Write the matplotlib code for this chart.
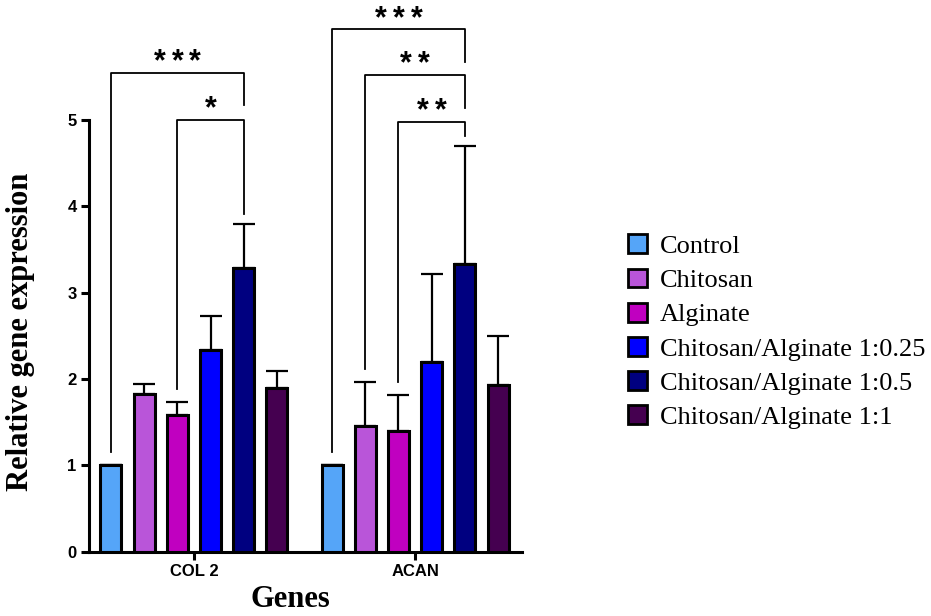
import matplotlib
matplotlib.use('Agg')
import matplotlib.pyplot as plt
import numpy as np
from matplotlib.patches import Patch

genes = ['COL 2', 'ACAN']
groups = ['Control', 'Chitosan', 'Alginate', 'Chitosan/Alginate 1:0.25',
          'Chitosan/Alginate 1:0.5', 'Chitosan/Alginate 1:1']
colors = ['#55a5f8', '#b955d9', '#c000c0', '#0000ff', '#000080', '#450050']

# bar heights and tops of the (upper only) error bars
col2_mean = [1.0, 1.83, 1.58, 2.33, 3.29, 1.89]
col2_upper = [1.0, 1.94, 1.73, 2.73, 3.80, 2.09]
acan_mean = [1.0, 1.45, 1.40, 2.20, 3.33, 1.93]
acan_upper = [1.0, 1.96, 1.81, 3.22, 4.70, 2.50]

# significance brackets: gene, left bar, right bar, number of stars
sig_gene = [0, 0, 1, 1, 1]
sig_left = [0, 2, 0, 1, 2]
sig_right = [4, 4, 4, 4, 4]
sig_stars = [3, 1, 3, 2, 2]

plt.rcParams['font.family'] = ['Liberation Sans', 'DejaVu Sans']

fig = plt.figure(figsize=(9.31, 6.16), dpi=100)
ax = fig.add_axes([0.0956, 0.1047, 0.4651, 0.7005])

gap = 6.66
width = 0.63
idx = np.arange(6)
means = [col2_mean, acan_mean]
uppers = [col2_upper, acan_upper]

for g in range(2):
    xs = idx + g * gap
    m = np.array(means[g])
    up = np.array(uppers[g])
    ax.bar(xs, m, width=width, color=colors, edgecolor='black', linewidth=2.2, zorder=3)
    ax.errorbar(xs, m, yerr=[np.zeros(6), up - m], fmt='none', ecolor='black',
                elinewidth=1.6, capsize=8, capthick=1.6, zorder=2)

# brackets
bracket_top = [5.55, 5.0, 6.05, 5.52, 4.98]
for k in range(len(sig_gene)):
    g = sig_gene[k]
    x1 = sig_left[k] + g * gap
    x2 = sig_right[k] + g * gap
    top = bracket_top[k]
    lbot = uppers[g][sig_left[k]] + 0.15
    rbot = top - 0.38
    if k == 1:
        rbot = 3.91
    if k == 4:
        rbot = 4.82
    ax.plot([x1, x1, x2, x2], [lbot, top, top, rbot], color='black', lw=1.3,
            clip_on=False, zorder=4)
    n = sig_stars[k]
    mid = (x1 + x2) / 2
    for j in range(n):
        ax.text(mid + (j - (n - 1) / 2) * 0.54, top + 0.03, '*', ha='center',
                va='baseline', fontsize=22, fontweight='bold', clip_on=False)

ax.set_xlim(-0.66, 12.38)
ax.set_ylim(0, 5)
ax.set_xticks([2.5, 2.5 + gap])
ax.set_xticklabels(genes, fontsize=12, fontweight='bold')
ax.set_yticks([0, 1, 2, 3, 4, 5])
ax.set_yticklabels(['0', '1', '2', '3', '4', '5'], fontsize=12, fontweight='bold')
ax.tick_params(axis='both', length=6, width=2.2, pad=3)

for s in ['top', 'right']:
    ax.spines[s].set_visible(False)
ax.spines['left'].set_linewidth(2.2)
ax.spines['bottom'].set_linewidth(2.2)
ax.spines['left'].set_bounds(0, 5)

ax.set_ylabel('Relative gene expression', fontsize=22, fontweight='bold',
              family='Liberation Serif')
ax.yaxis.set_label_coords(-0.125, 0.51)
ax.set_xlabel('Genes', fontsize=22, fontweight='bold', family='Liberation Serif')
ax.xaxis.set_label_coords(0.464, -0.077)

handles = [Patch(facecolor=c, edgecolor='black', linewidth=2) for c in colors]
fig.legend(handles, groups, loc='upper left', bbox_to_anchor=(0.649, 0.658),
           frameon=False, prop={'family': 'Liberation Serif', 'size': 19},
           handlelength=0.72, handleheight=0.72, handletextpad=0.5,
           labelspacing=0.4)

fig.savefig('out.png', dpi=100)
